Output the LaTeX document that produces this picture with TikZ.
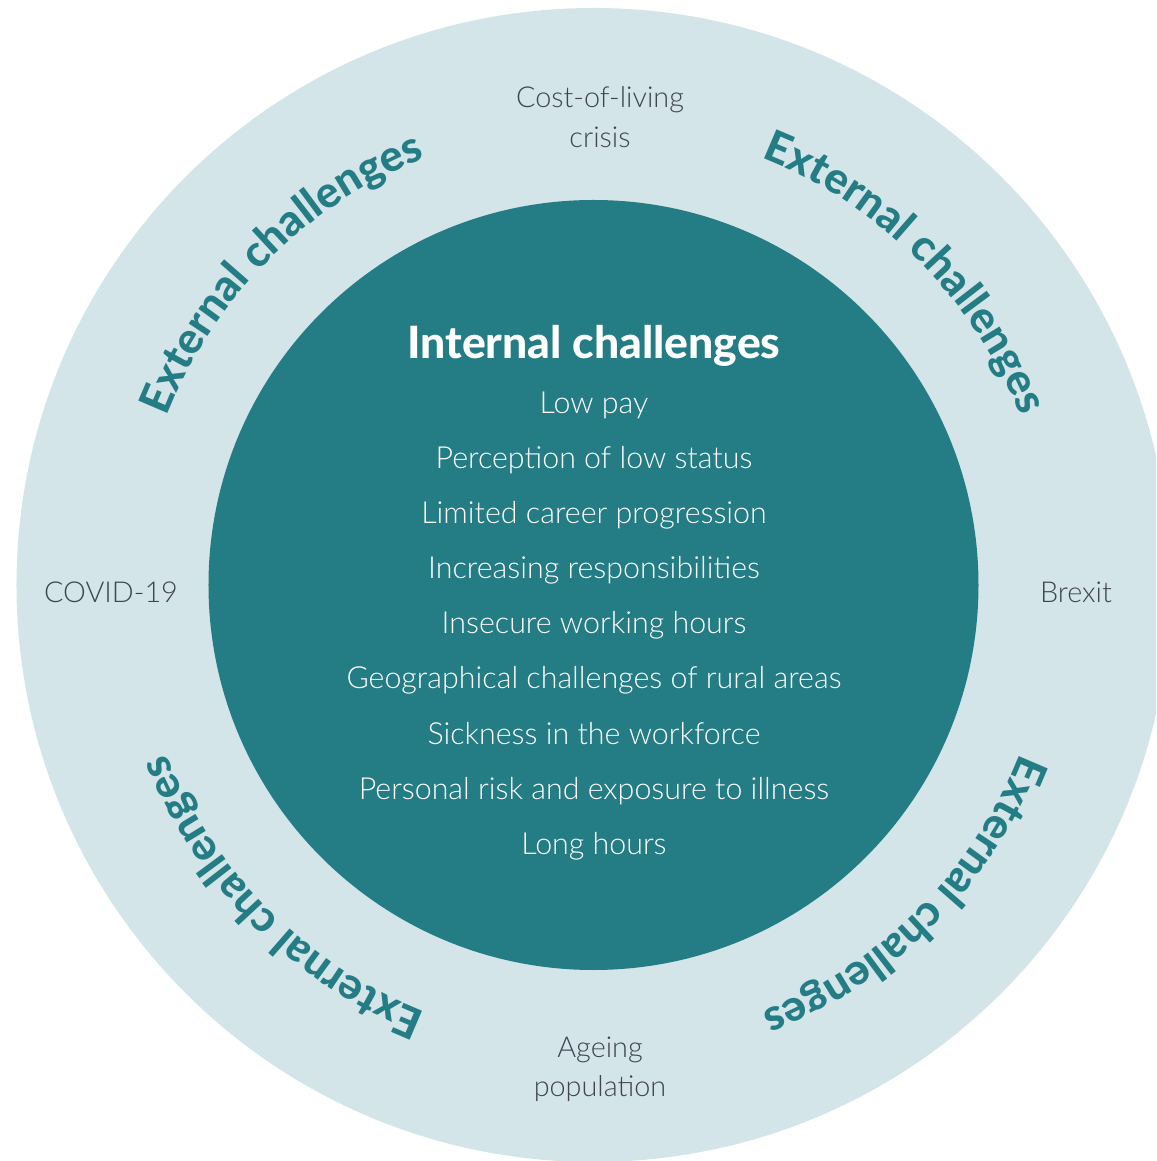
\documentclass[tikz,border=0pt]{standalone}
\usepackage{fontspec}
\setmainfont{Lato}
\usetikzlibrary{decorations.text}
\definecolor{ringbg}{HTML}{D3E5E8}
\definecolor{coreteal}{HTML}{247C85}
\definecolor{labelgrey}{HTML}{3F4352}
% lighter face for the lists, heavier face for the headings
\IfFontExistsTF{Lato Light}{\newfontfamily\thinfont{Lato Light}}{\newfontfamily\thinfont{Lato}}
\IfFontExistsTF{Lato Heavy}{\newfontfamily\heavyfont{Lato Heavy}}{\newfontfamily\heavyfont{Lato}[UprightFont=*-Bold]}
\tikzset{
  x=1pt, y=1pt,
  itemtext/.style={text=white, anchor=base, inner sep=0pt, font=\thinfont\fontsize{30.4}{33}\selectfont},
  outertext/.style={text=labelgrey, anchor=base, inner sep=0pt, font=\thinfont\fontsize{28.8}{32}\selectfont},
  ringlabel/.style={decorate, decoration={text along path, text align=center,
      text={|\heavyfont\fontsize{43.5}{46}\selectfont\color{coreteal}|External challenges}}}
}
\begin{document}
\begin{tikzpicture}
  \useasboundingbox (-593.5,-576) rectangle (562.5,585);
  \clip (-593.5,-576) rectangle (562.5,585);

  % rings
  \node[circle, fill=ringbg, minimum size=1154pt, inner sep=0pt] (outer) at (0,0) {};
  \node[circle, fill=coreteal, minimum size=770pt, inner sep=0pt] (inner) at (0,0) {};

  % curved headings in the outer ring (clockwise arcs)
  \path[ringlabel] (180:459) arc[start angle=180, end angle=90, radius=459];
  \path[ringlabel] (90:459) arc[start angle=90, end angle=0, radius=459];
  \path[ringlabel] (0:459) arc[start angle=0, end angle=-90, radius=459];
  \path[ringlabel] (270:459) arc[start angle=270, end angle=180, radius=459];

  % inner list
  \node[text=white, anchor=base, inner sep=0pt, font=\heavyfont\fontsize{44.5}{48}\selectfont] (head) at (0.5,226) {Internal challenges};
  \foreach \t [count=\i] in {Low pay, Perception of low status, Limited career progression,
      Increasing responsibilities, Insecure working hours,
      Geographical challenges of rural areas, Sickness in the workforce,
      Personal risk and exposure to illness, Long hours}
    \node[itemtext] (item\i) at (0.5, {226-55*\i}) {\t};

  % outer factors
  \node[outertext] (cost1) at (6.5,477) {Cost-of-living};
  \node[outertext] (cost2) at (6.5,437) {crisis};
  \node[outertext] (covid) at (-482.5,-18) {COVID-19};
  \node[outertext] (brexit) at (482.5,-18) {Brexit};
  \node[outertext] (age1) at (6.5,-472) {Ageing};
  \node[outertext] (age2) at (6.5,-511) {population};
\end{tikzpicture}
\end{document}
